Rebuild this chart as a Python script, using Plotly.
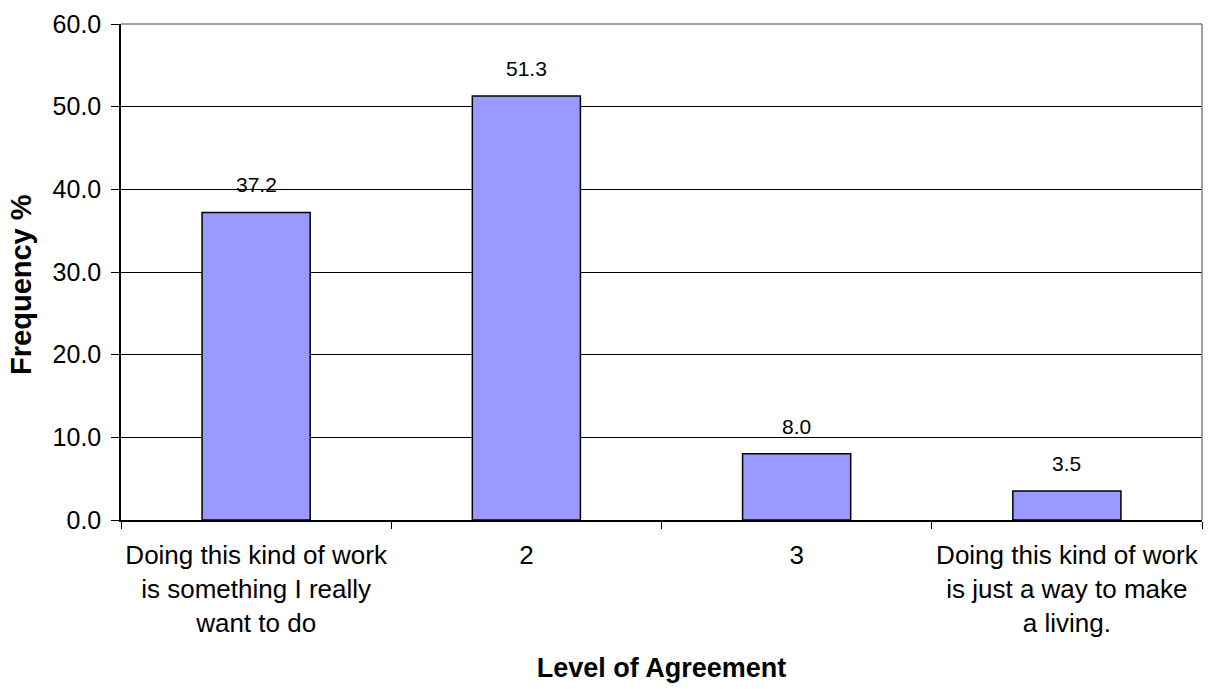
import plotly.graph_objects as go

# Survey responses: level of agreement with the statement about work
categories = [
    "Doing this kind of work<br>is something I really<br>want to do",
    "2",
    "3",
    "Doing this kind of work<br>is just a way to make<br>a living.",
]
frequency_pct = [37.2, 51.3, 8.0, 3.5]
y_ticks = [0, 10, 20, 30, 40, 50, 60]

FONT = "Liberation Sans, Arial, sans-serif"

fig = go.Figure()
fig.add_trace(
    go.Bar(
        x=categories,
        y=frequency_pct,
        width=0.4,
        marker=dict(color="#9999FF", line=dict(color="#000000", width=1.5)),
        hoverinfo="x+y",
    )
)

# Value labels above each bar (positioned by category index)
for i, val in enumerate(frequency_pct):
    fig.add_annotation(
        x=i, y=val, text=f"{val:.1f}", showarrow=False,
        yanchor="bottom", yshift=14,
        font=dict(family=FONT, size=21, color="#000000"),
    )

# Vertical axis title, placed as a rotated annotation
fig.add_annotation(
    xref="paper", yref="paper", x=-0.0925, y=0.474,
    text="<b>Frequency %</b>", textangle=-90, showarrow=False,
    xanchor="center", yanchor="middle",
    font=dict(family=FONT, size=29, color="#000000"),
)

# Grey frame on the top and right sides of the plot area
fig.add_shape(type="line", xref="paper", yref="paper", x0=0, x1=1, y0=1, y1=1,
              line=dict(color="#808080", width=1.5), layer="above")
fig.add_shape(type="line", xref="paper", yref="paper", x0=1, x1=1, y0=0, y1=1,
              line=dict(color="#808080", width=1.5), layer="above")

fig.update_layout(
    width=1219,
    height=689,
    margin=dict(l=121, r=17, t=24, b=169),
    paper_bgcolor="#ffffff",
    plot_bgcolor="#ffffff",
    showlegend=False,
    font=dict(family=FONT, color="#000000"),
    bargap=0.6,
)

fig.update_xaxes(
    type="category",
    tickson="boundaries",
    tickangle=0,
    ticks="outside",
    ticklen=7,
    tickcolor="#000000",
    tickwidth=1,
    ticklabelstandoff=11,
    showgrid=False,
    showline=True,
    linecolor="#000000",
    linewidth=1.5,
    automargin=False,
    tickfont=dict(family=FONT, size=26, color="#000000"),
    title=dict(text="<b>Level of Agreement</b>",
               font=dict(family=FONT, size=27, color="#000000"), standoff=22),
)

fig.update_yaxes(
    range=[0, 60],
    tickvals=y_ticks,
    tickformat=".1f",
    ticks="outside",
    ticklen=8,
    tickcolor="#000000",
    tickwidth=1,
    ticklabelstandoff=5,
    showgrid=True,
    gridcolor="#000000",
    gridwidth=1,
    showline=True,
    linecolor="#000000",
    linewidth=1.5,
    zeroline=False,
    automargin=False,
    tickfont=dict(family=FONT, size=25, color="#000000"),
)

fig.write_html("out.html")
